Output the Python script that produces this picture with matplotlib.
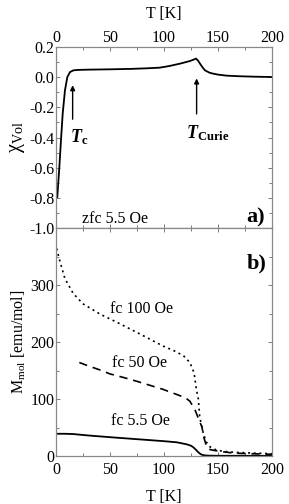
import matplotlib
matplotlib.use("Agg")
import matplotlib.pyplot as plt
from matplotlib.ticker import MultipleLocator

plt.rcParams['font.family'] = ['Liberation Serif', 'DejaVu Serif']
plt.rcParams['mathtext.fontset'] = 'custom'
plt.rcParams['mathtext.rm'] = 'Liberation Serif'
plt.rcParams['mathtext.it'] = 'Liberation Serif:italic'
plt.rcParams['mathtext.bf'] = 'Liberation Serif:bold'
plt.rcParams['mathtext.bfit'] = 'Liberation Serif:italic:bold'

# zfc susceptibility (panel a)
T_zfc = [1.2, 3.1, 4.6, 6.2, 8.3, 10.5, 13, 16, 20, 31, 50, 70, 85, 96, 105, 115, 124, 128, 129.6,
         131.5, 133.3, 136, 138, 142, 145.7, 150, 158, 170, 185, 200]
chi_zfc = [-0.795, -0.596, -0.419, -0.242, -0.087, 0.001, 0.034, 0.045, 0.048, 0.05, 0.052, 0.055,
           0.059, 0.063, 0.074, 0.09, 0.107, 0.118, 0.123, 0.11, 0.09, 0.062, 0.045, 0.03, 0.023,
           0.017, 0.01, 0.006, 0.003, 0.001]

# fc magnetization (panel b)
T_fc100 = [0.6, 3.7, 8.3, 16, 25, 40.7, 56, 77.8, 99, 110, 118, 124, 127.8, 130, 131.8, 133,
           134.5, 136.4, 139, 142.6, 148, 155, 170, 185, 200]
M_fc100 = [364, 341, 311, 285, 267, 249, 235, 214, 193, 184, 176, 164, 146, 117, 100, 70,
           55, 40, 25, 16, 11, 8, 6, 5, 4]

T_fc50 = [21.6, 30, 40.7, 50, 62, 75, 87, 99, 111.7, 120, 124, 128.7, 131, 133, 135, 137, 139.5, 143,
          152, 165, 180, 200]
M_fc50 = [164, 158, 151, 144, 138, 131, 124, 117, 108, 102, 96, 81, 70, 60, 52, 32, 16, 11,
          8, 5, 4, 3]

T_fc5 = [0, 8, 16, 30, 50, 75, 100, 112, 121, 125, 127, 129, 131, 133, 135, 138, 142, 150, 170, 200]
M_fc5 = [39, 39, 38.5, 36, 33, 29.5, 26, 24, 20.5, 18, 15.5, 12, 8, 4.5, 2.2, 1.0, 0.6, 0.4, 0.3, 0.3]

x_ticks = [0, 50, 100, 150, 200]

W, H = 289, 504
fig = plt.figure(figsize=(W / 100, H / 100), dpi=100)
L, R = 56 / W, 272 / W
ax1 = fig.add_axes([L, 1 - 228 / H, R - L, (228 - 47) / H])
ax2 = fig.add_axes([L, 1 - 456 / H, R - L, (456 - 228) / H])

fs = 11.5
for ax in (ax1, ax2):
    ax.set_xlim(0, 200)
    ax.set_xticks(x_ticks)
    ax.xaxis.set_minor_locator(MultipleLocator(25))
    ax.tick_params(which='both', direction='in', top=True, right=True, labelsize=fs,
                   width=0.6, color='#666666')
    ax.tick_params(which='major', length=3)
    ax.tick_params(which='minor', length=2)
    ax.tick_params(axis='y', pad=1)
    for s in ax.spines.values():
        s.set_color('#888888')
        s.set_linewidth(0.9)

# panel a
ax1.plot(T_zfc, chi_zfc, color='black', lw=1.3)
ax1.set_ylim(-1.0, 0.2)
ax1.set_yticks([-1.0, -0.8, -0.6, -0.4, -0.2, 0.0, 0.2])
ax1.set_yticklabels(['-1.0', '-0.8', '-0.6', '-0.4', '-0.2', '0.0', '0.2'])
ax1.yaxis.set_minor_locator(MultipleLocator(0.1))
ax1.tick_params(axis='x', labelbottom=False, labeltop=True, pad=1)
ax1.xaxis.set_label_position('top')
ax1.set_xlabel('T [K]', fontsize=fs, labelpad=8)
ax1.set_ylabel(r'$\mathrm{χ}_{\mathrm{Vol}}$', fontsize=fs + 3, labelpad=2)
ax1.annotate('', xy=(15.4, -0.035), xytext=(15.4, -0.297),
             arrowprops=dict(arrowstyle='-|>', color='black', lw=1.0, mutation_scale=7))
ax1.annotate('', xy=(130.2, 0.01), xytext=(130.2, -0.262),
             arrowprops=dict(arrowstyle='-|>', color='black', lw=1.0, mutation_scale=7))
ax1.text(12.5, -0.40, r'$\mathbfit{T}_{\mathbf{c}}$', fontsize=13, ha='left', va='center')
ax1.text(120, -0.37, r'$\mathbfit{T}_{\mathbf{Curie}}$', fontsize=13, ha='left', va='center')
ax1.text(24, -0.94, 'zfc 5.5 Oe', fontsize=fs, ha='left', va='center')
ax1.text(193, -0.93, 'a)', fontsize=16, fontweight='bold', ha='right', va='center')

# panel b
ax2.plot(T_fc100, M_fc100, color='black', lw=1.2, ls=(0, (1.2, 2.2)))
ax2.plot(T_fc50, M_fc50, color='black', lw=1.2, ls=(0, (5, 3.5)))
ax2.plot(T_fc5, M_fc5, color='black', lw=1.3)
ax2.set_ylim(0, 400)
ax2.set_yticks([0, 100, 200, 300])
ax2.yaxis.set_minor_locator(MultipleLocator(50))
ax2.tick_params(axis='x', pad=4)
ax2.set_xlabel('T [K]', fontsize=fs, labelpad=8)
ax2.set_ylabel(r'$\mathrm{M}_{\mathrm{mol}}$ [emu/mol]', fontsize=fs, labelpad=2)
ax2.text(79, 258, 'fc 100 Oe', fontsize=fs, ha='center', va='center')
ax2.text(77, 164, 'fc 50 Oe', fontsize=fs, ha='center', va='center')
ax2.text(78, 61, 'fc 5.5 Oe', fontsize=fs, ha='center', va='center')
ax2.text(195, 337, 'b)', fontsize=16, fontweight='bold', ha='right', va='center')

fig.savefig('out.png', dpi=100)
